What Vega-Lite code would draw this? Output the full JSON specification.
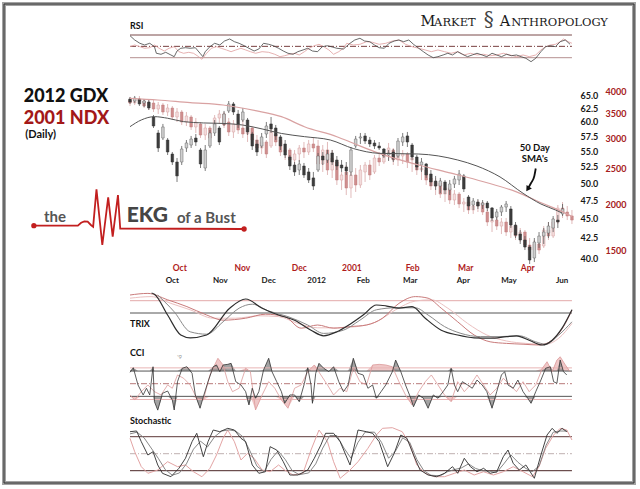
{
"$schema":"https://vega.github.io/schema/vega-lite/v6.json",
"width":630,"height":479,"autosize":{"type":"none"},
"padding":{"left":4,"top":4,"right":6,"bottom":6},
"background":"#ffffff",
"config":{"view":{"stroke":null},"text":{"font":"Lato"}},
"datasets":{
"span":[{"i":0,"i2":94}],
"gdx":[
{"i":0,"o":64.23,"h":64.62,"l":63.29,"c":63.66},{"i":1,"o":63.85,"h":64.81,"l":63.48,"c":64.42},{"i":2,"o":64.23,"h":64.42,"l":62.91,"c":63.29},{"i":3,"o":63.48,"h":64.23,"l":62.73,"c":63.85},{"i":4,"o":63.66,"h":64.04,"l":62.17,"c":62.54},{"i":5,"o":60.89,"h":61.25,"l":58.93,"c":59.28},{"i":6,"o":58.06,"h":58.58,"l":54.87,"c":55.53},{"i":7,"o":57.2,"h":59.64,"l":56.86,"c":59.11},{"i":8,"o":56.86,"h":57.2,"l":54.38,"c":54.87},{"i":9,"o":54.54,"h":54.87,"l":52.79,"c":53.26},
{"i":10,"o":53.26,"h":53.9,"l":50.19,"c":51.1},{"i":11,"o":53.26,"h":55.86,"l":52.79,"c":55.36},{"i":12,"o":55.53,"h":56.86,"l":54.87,"c":56.36},{"i":13,"o":56.02,"h":57.55,"l":55.53,"c":57.03},{"i":14,"o":57.2,"h":57.89,"l":55.86,"c":56.52},{"i":15,"o":55.2,"h":55.53,"l":52.32,"c":52.95},{"i":16,"o":52.32,"h":56.02,"l":51.86,"c":55.2},{"i":17,"o":55.86,"h":58.58,"l":55.53,"c":58.06},{"i":18,"o":58.06,"h":60.35,"l":57.55,"c":59.64},{"i":19,"o":58.93,"h":59.28,"l":56.02,"c":56.52},
{"i":20,"o":59.64,"h":61.99,"l":59.28,"c":61.43},{"i":21,"o":61.99,"h":63.85,"l":61.62,"c":63.29},{"i":22,"o":63.29,"h":63.66,"l":61.25,"c":61.8},{"i":23,"o":61.43,"h":62.17,"l":58.93,"c":59.64},{"i":24,"o":60.35,"h":62.54,"l":59.99,"c":61.8},{"i":25,"o":60.35,"h":60.71,"l":57.72,"c":58.24},{"i":26,"o":57.89,"h":58.24,"l":55.2,"c":55.86},{"i":27,"o":56.19,"h":56.86,"l":54.22,"c":54.87},{"i":28,"o":55.86,"h":58.06,"l":55.53,"c":57.38},{"i":29,"o":57.89,"h":59.99,"l":57.2,"c":59.28},
{"i":30,"o":59.64,"h":60.89,"l":58.06,"c":58.76},{"i":31,"o":58.93,"h":59.46,"l":56.86,"c":57.55},{"i":32,"o":57.38,"h":57.72,"l":55.2,"c":55.86},{"i":33,"o":56.19,"h":56.86,"l":53.9,"c":54.38},{"i":34,"o":54.06,"h":54.38,"l":52.01,"c":52.63},{"i":35,"o":52.79,"h":53.26,"l":51.1,"c":51.71},{"i":36,"o":52.01,"h":53.58,"l":51.25,"c":52.95},{"i":37,"o":52.63,"h":53.11,"l":50.8,"c":51.25},{"i":38,"o":51.71,"h":52.32,"l":50.04,"c":50.49},{"i":39,"o":50.8,"h":51.71,"l":49.01,"c":49.59},
{"i":40,"o":52.01,"h":54.71,"l":51.71,"c":54.22},{"i":41,"o":54.22,"h":54.87,"l":52.79,"c":53.58},{"i":42,"o":53.58,"h":55.2,"l":53.11,"c":54.54},{"i":43,"o":54.71,"h":55.2,"l":52.79,"c":53.26},{"i":44,"o":53.58,"h":54.22,"l":52.01,"c":52.63},{"i":45,"o":52.79,"h":53.58,"l":51.71,"c":52.32},{"i":46,"o":52.48,"h":53.26,"l":51.25,"c":51.86},{"i":47,"o":51.71,"h":55.69,"l":51.1,"c":55.2},{"i":48,"o":55.86,"h":57.55,"l":55.53,"c":57.03},{"i":49,"o":57.2,"h":58.06,"l":56.19,"c":57.38},
{"i":50,"o":57.55,"h":58.06,"l":56.19,"c":56.69},{"i":51,"o":56.86,"h":57.38,"l":55.69,"c":56.19},{"i":52,"o":56.36,"h":56.86,"l":55.36,"c":55.86},{"i":53,"o":55.86,"h":56.52,"l":55.2,"c":55.53},{"i":54,"o":55.36,"h":55.53,"l":53.9,"c":54.22},{"i":55,"o":54.38,"h":55.2,"l":53.42,"c":54.71},{"i":56,"o":54.87,"h":55.36,"l":53.26,"c":53.74},{"i":57,"o":54.22,"h":57.2,"l":53.9,"c":56.69},{"i":58,"o":56.52,"h":58.06,"l":55.86,"c":57.38},{"i":59,"o":57.55,"h":58.24,"l":55.69,"c":56.52},
{"i":60,"o":56.02,"h":56.36,"l":53.58,"c":54.06},{"i":61,"o":54.06,"h":54.38,"l":52.01,"c":52.48},{"i":62,"o":52.79,"h":53.9,"l":51.71,"c":53.26},{"i":63,"o":52.95,"h":53.11,"l":50.8,"c":51.25},{"i":64,"o":51.4,"h":52.01,"l":49.59,"c":50.19},{"i":65,"o":50.34,"h":51.1,"l":49.01,"c":49.59},{"i":66,"o":49.59,"h":50.8,"l":48.57,"c":50.34},{"i":67,"o":50.19,"h":50.49,"l":48.43,"c":49.01},{"i":68,"o":49.01,"h":50.49,"l":48.28,"c":49.89},{"i":69,"o":49.89,"h":51.1,"l":49.3,"c":50.64},
{"i":70,"o":50.49,"h":52.01,"l":49.74,"c":51.4},{"i":71,"o":51.1,"h":51.4,"l":48.72,"c":49.16},{"i":72,"o":48.0,"h":48.28,"l":46.18,"c":46.73},{"i":73,"o":46.87,"h":47.85,"l":46.18,"c":47.43},{"i":74,"o":47.29,"h":47.71,"l":46.32,"c":46.73},{"i":75,"o":46.87,"h":47.57,"l":46.32,"c":47.15},{"i":76,"o":47.15,"h":47.43,"l":46.04,"c":46.46},{"i":77,"o":46.46,"h":46.59,"l":44.69,"c":45.09},{"i":78,"o":45.23,"h":46.32,"l":44.82,"c":45.91},{"i":79,"o":45.91,"h":46.87,"l":45.36,"c":46.59},
{"i":80,"o":46.59,"h":47.43,"l":45.91,"c":47.01},{"i":81,"o":46.32,"h":46.73,"l":43.77,"c":44.16},{"i":82,"o":44.16,"h":44.56,"l":42.49,"c":42.87},{"i":83,"o":43.0,"h":43.51,"l":41.74,"c":42.24},{"i":84,"o":42.24,"h":42.74,"l":41.0,"c":41.37},{"i":85,"o":41.37,"h":41.62,"l":39.33,"c":39.8},{"i":86,"o":40.04,"h":42.49,"l":39.56,"c":41.99},{"i":87,"o":41.87,"h":43.25,"l":41.25,"c":42.74},{"i":88,"o":42.74,"h":43.77,"l":41.74,"c":43.25},{"i":89,"o":43.13,"h":44.56,"l":42.49,"c":44.03},
{"i":90,"o":43.77,"h":45.36,"l":43.25,"c":44.96},{"i":91,"o":44.82,"h":45.5,"l":43.77,"c":44.56},{"i":92,"o":45.64,"h":47.01,"l":45.36,"c":46.32}],
"ndx":[
{"i":0,"o":3801,"h":3872,"l":3663,"c":3731},{"i":1,"o":3731,"h":3848,"l":3685,"c":3801},{"i":2,"o":3801,"h":3895,"l":3708,"c":3777},{"i":3,"o":3777,"h":3824,"l":3618,"c":3663},{"i":4,"o":3663,"h":3801,"l":3574,"c":3731},{"i":5,"o":3731,"h":3801,"l":3530,"c":3596},{"i":6,"o":3596,"h":3754,"l":3487,"c":3685},{"i":7,"o":3685,"h":3731,"l":3465,"c":3530},{"i":8,"o":3530,"h":3708,"l":3444,"c":3618},{"i":9,"o":3618,"h":3663,"l":3360,"c":3423},
{"i":10,"o":3423,"h":3618,"l":3319,"c":3530},{"i":11,"o":3530,"h":3574,"l":3258,"c":3319},{"i":12,"o":3319,"h":3530,"l":3238,"c":3444},{"i":13,"o":3423,"h":3465,"l":3160,"c":3219},{"i":14,"o":3219,"h":3402,"l":3102,"c":3319},{"i":15,"o":3279,"h":3319,"l":3008,"c":3064},{"i":16,"o":3064,"h":3279,"l":2971,"c":3199},{"i":17,"o":3199,"h":3238,"l":2935,"c":3008},{"i":18,"o":3160,"h":3465,"l":3121,"c":3402},{"i":19,"o":3402,"h":3574,"l":3279,"c":3487},
{"i":20,"o":3487,"h":3530,"l":3199,"c":3258},{"i":21,"o":3319,"h":3402,"l":3045,"c":3121},{"i":22,"o":3121,"h":3360,"l":3008,"c":3279},{"i":23,"o":3279,"h":3402,"l":3083,"c":3160},{"i":24,"o":3199,"h":3360,"l":3008,"c":3083},{"i":25,"o":3083,"h":3258,"l":2935,"c":3199},{"i":26,"o":3199,"h":3238,"l":2881,"c":2971},{"i":27,"o":2971,"h":3064,"l":2759,"c":2828},{"i":28,"o":2828,"h":3008,"l":2726,"c":2935},{"i":29,"o":2935,"h":2971,"l":2659,"c":2726},
{"i":30,"o":2863,"h":3199,"l":2828,"c":3121},{"i":31,"o":3083,"h":3160,"l":2863,"c":2935},{"i":32,"o":2971,"h":3008,"l":2692,"c":2759},{"i":33,"o":2759,"h":2881,"l":2627,"c":2794},{"i":34,"o":2794,"h":2828,"l":2547,"c":2627},{"i":35,"o":2627,"h":2794,"l":2547,"c":2726},{"i":36,"o":2726,"h":2881,"l":2595,"c":2828},{"i":37,"o":2828,"h":2935,"l":2659,"c":2759},{"i":38,"o":2759,"h":2971,"l":2709,"c":2899},{"i":39,"o":2899,"h":3008,"l":2759,"c":2828},
{"i":40,"o":2863,"h":2971,"l":2500,"c":2563},{"i":41,"o":2563,"h":2881,"l":2440,"c":2794},{"i":42,"o":2794,"h":2935,"l":2395,"c":2470},{"i":43,"o":2470,"h":2794,"l":2351,"c":2659},{"i":44,"o":2595,"h":2627,"l":2252,"c":2322},{"i":45,"o":2322,"h":2440,"l":2184,"c":2395},{"i":46,"o":2440,"h":2547,"l":2117,"c":2211},{"i":47,"o":2211,"h":2470,"l":2079,"c":2395},{"i":48,"o":2395,"h":2500,"l":2157,"c":2252},{"i":49,"o":2252,"h":2547,"l":2211,"c":2470},
{"i":50,"o":2440,"h":2595,"l":2294,"c":2547},{"i":51,"o":2547,"h":2627,"l":2322,"c":2395},{"i":52,"o":2440,"h":2709,"l":2410,"c":2659},{"i":53,"o":2659,"h":2759,"l":2531,"c":2595},{"i":54,"o":2595,"h":2794,"l":2563,"c":2709},{"i":55,"o":2709,"h":2917,"l":2627,"c":2828},{"i":56,"o":2794,"h":2828,"l":2547,"c":2627},{"i":57,"o":2627,"h":2759,"l":2531,"c":2692},{"i":58,"o":2692,"h":2794,"l":2563,"c":2726},{"i":59,"o":2726,"h":2759,"l":2500,"c":2595},
{"i":60,"o":2627,"h":2709,"l":2440,"c":2659},{"i":61,"o":2595,"h":2627,"l":2395,"c":2470},{"i":62,"o":2470,"h":2547,"l":2322,"c":2500},{"i":63,"o":2470,"h":2500,"l":2252,"c":2322},{"i":64,"o":2351,"h":2395,"l":2184,"c":2238},{"i":65,"o":2238,"h":2351,"l":2117,"c":2294},{"i":66,"o":2280,"h":2322,"l":2079,"c":2130},{"i":67,"o":2130,"h":2252,"l":2028,"c":2211},{"i":68,"o":2211,"h":2238,"l":2003,"c":2053},{"i":69,"o":2053,"h":2184,"l":1991,"c":2130},
{"i":70,"o":2130,"h":2157,"l":1954,"c":2003},{"i":71,"o":2003,"h":2079,"l":1907,"c":2028},{"i":72,"o":2028,"h":2053,"l":1884,"c":1931},{"i":73,"o":1931,"h":2028,"l":1884,"c":1979},{"i":74,"o":1979,"h":2053,"l":1907,"c":2016},{"i":75,"o":2016,"h":2028,"l":1872,"c":1907},{"i":76,"o":1907,"h":1931,"l":1749,"c":1793},{"i":77,"o":1793,"h":1872,"l":1686,"c":1815},{"i":78,"o":1815,"h":1884,"l":1707,"c":1749},{"i":79,"o":1749,"h":1838,"l":1665,"c":1793},
{"i":80,"o":1793,"h":1838,"l":1645,"c":1686},{"i":81,"o":1686,"h":1815,"l":1625,"c":1749},{"i":82,"o":1749,"h":1771,"l":1605,"c":1645},{"i":83,"o":1645,"h":1728,"l":1585,"c":1686},{"i":84,"o":1686,"h":1707,"l":1528,"c":1556},{"i":85,"o":1556,"h":1625,"l":1437,"c":1509},{"i":86,"o":1509,"h":1605,"l":1454,"c":1566},{"i":87,"o":1566,"h":1625,"l":1472,"c":1509},{"i":88,"o":1547,"h":1749,"l":1528,"c":1707},{"i":89,"o":1707,"h":1793,"l":1605,"c":1645},
{"i":90,"o":1645,"h":1838,"l":1625,"c":1793},{"i":91,"o":1793,"h":1991,"l":1771,"c":1954},{"i":92,"o":1954,"h":2028,"l":1838,"c":1907},{"i":93,"o":1907,"h":1979,"l":1815,"c":1861},{"i":94,"o":1861,"h":1931,"l":1771,"c":1815}],
"gsma":[{"i":0,"v":59.16},{"i":2.4,"v":60.35},{"i":5.2,"v":60.95},{"i":8,"v":60.66},{"i":11.4,"v":60.05},{"i":15.6,"v":59.82},{"i":19.8,"v":59.73},{"i":23.9,"v":59.46},{"i":28.1,"v":58.76},{"i":32.2,"v":57.98},{"i":37.1,"v":57.43},{"i":42.6,"v":56.86},{"i":47.5,"v":55.44},{"i":53,"v":54.65},{"i":61.4,"v":54.54},{"i":69.7,"v":53.58},{"i":73.8,"v":52.63},{"i":78.7,"v":50.95},{"i":83.6,"v":48.53},{"i":87.4,"v":47.01},{"i":90.5,"v":46.18},{"i":91.9,"v":45.77}],
"nsma":[{"i":0,"v":3841},{"i":5.9,"v":3801},{"i":12.8,"v":3738},{"i":19.8,"v":3685},{"i":26.7,"v":3559},{"i":32.2,"v":3430},{"i":37.1,"v":3224},{"i":44,"v":3032},{"i":47.5,"v":2912},{"i":53,"v":2737},{"i":61.4,"v":2547},{"i":68.3,"v":2422},{"i":75.2,"v":2298},{"i":82.2,"v":2159},{"i":87.7,"v":2012},{"i":91.9,"v":1911},{"i":94,"v":1854}],
"rsig":[{"i":0,"v":68.8},{"i":1,"v":61.2},{"i":2.1,"v":55.4},{"i":3.1,"v":52.4},{"i":4.2,"v":55.4},{"i":5.2,"v":49.4},{"i":5.6,"v":37.8},{"i":6.6,"v":36},{"i":7.6,"v":39.5},{"i":8.7,"v":34.8},{"i":9.4,"v":31.8},{"i":10,"v":41.8},{"i":10.8,"v":46.6},{"i":11.8,"v":47.6},{"i":12.8,"v":46.6},{"i":13.9,"v":47.6},{"i":14.9,"v":37.8},{"i":15.5,"v":31.8},{"i":16,"v":40.6},{"i":17,"v":49.4},{"i":18,"v":55.4},{"i":19.1,"v":52.4},{"i":20.1,"v":59.4},{"i":21.2,"v":63},{"i":22.2,"v":58.2},{"i":23.2,"v":55.4},{"i":24.3,"v":51.1},{"i":25.3,"v":46.6},{"i":26.4,"v":41.8},{"i":27.4,"v":45.3},{"i":28.4,"v":55.4},{"i":29.5,"v":53.6},{"i":30.5,"v":51.1},{"i":31.6,"v":46.6},{"i":32.6,"v":41.8},{"i":33.6,"v":37.8},{"i":34.7,"v":36},{"i":35.7,"v":40.6},{"i":36.8,"v":43.6},{"i":37.8,"v":46.6},{"i":38.8,"v":41.8},{"i":39.9,"v":40.6},{"i":40.9,"v":49.4},{"i":42,"v":51.1},{"i":43,"v":48.9},{"i":44,"v":46.6},{"i":45.4,"v":45.3},{"i":46.8,"v":55.4},{"i":47.8,"v":61.2},{"i":48.9,"v":64.2},{"i":49.9,"v":59.4},{"i":51,"v":58.2},{"i":52,"v":52.4},{"i":53,"v":47.6},{"i":54.1,"v":46.6},{"i":55.1,"v":55.4},{"i":56.2,"v":59.4},{"i":57.2,"v":61.2},{"i":58.2,"v":58.2},{"i":59.3,"v":61.2},{"i":60.3,"v":53.6},{"i":61.4,"v":46.6},{"i":62.4,"v":40.6},{"i":63.4,"v":34.8},{"i":64.5,"v":30},{"i":65.5,"v":31.8},{"i":66.6,"v":34.8},{"i":67.6,"v":37.8},{"i":68.6,"v":34.8},{"i":69.7,"v":40.6},{"i":70.7,"v":36},{"i":71.8,"v":31.8},{"i":72.8,"v":34.8},{"i":73.8,"v":37.8},{"i":74.9,"v":34.8},{"i":75.9,"v":31.8},{"i":77,"v":37.8},{"i":78,"v":34.8},{"i":79,"v":31.8},{"i":80.1,"v":36},{"i":81.1,"v":33.5},{"i":82.2,"v":34.8},{"i":83.2,"v":31.8},{"i":84.2,"v":29},{"i":85.3,"v":23},{"i":86.3,"v":29},{"i":87.4,"v":40.6},{"i":88.4,"v":49.4},{"i":89.4,"v":51.1},{"i":90.5,"v":49.4},{"i":91.5,"v":58.2},{"i":92.6,"v":61.2},{"i":93.6,"v":53.6}],
"rsin":[{"i":0,"v":49.4},{"i":1,"v":52.4},{"i":2.1,"v":49.4},{"i":3.1,"v":46.6},{"i":4.2,"v":47.6},{"i":5.2,"v":52.4},{"i":6.2,"v":46.6},{"i":7.3,"v":41.8},{"i":8.3,"v":46.6},{"i":9.4,"v":49.4},{"i":10.4,"v":40.6},{"i":11.4,"v":37.8},{"i":12.5,"v":39.5},{"i":13.5,"v":37.8},{"i":14.6,"v":31.8},{"i":15.3,"v":27.2},{"i":16.3,"v":37.8},{"i":17.3,"v":46.6},{"i":18.4,"v":49.4},{"i":19.4,"v":46.6},{"i":20.5,"v":43.6},{"i":21.5,"v":40.6},{"i":22.5,"v":43.6},{"i":23.6,"v":46.6},{"i":24.6,"v":43.6},{"i":25.6,"v":40.6},{"i":26.7,"v":37.8},{"i":28.1,"v":40.6},{"i":29.5,"v":39.5},{"i":30.8,"v":36},{"i":31.9,"v":31.8},{"i":32.9,"v":33.5},{"i":34,"v":36},{"i":35,"v":37.8},{"i":36,"v":34.8},{"i":37.1,"v":40.6},{"i":38.1,"v":46.6},{"i":39.2,"v":51.1},{"i":40.2,"v":53.6},{"i":41.2,"v":49.4},{"i":42.3,"v":43.6},{"i":43.3,"v":36},{"i":44.4,"v":40.6},{"i":45.4,"v":46.6},{"i":46.1,"v":55.4},{"i":47.5,"v":52.4},{"i":48.9,"v":53.6},{"i":50.3,"v":58.2},{"i":51.6,"v":57.1},{"i":53,"v":53.6},{"i":54.4,"v":55.4},{"i":55.8,"v":59.4},{"i":57.2,"v":61.2},{"i":58.6,"v":53.6},{"i":60,"v":49.4},{"i":61.4,"v":46.6},{"i":62.8,"v":43.6},{"i":64.1,"v":40.6},{"i":65.5,"v":43.6},{"i":66.9,"v":40.6},{"i":68.3,"v":37.8},{"i":69.7,"v":40.6},{"i":71.1,"v":34.8},{"i":72.4,"v":37.8},{"i":73.8,"v":34.8},{"i":75.2,"v":36},{"i":76.6,"v":33.5},{"i":78,"v":34.8},{"i":79.4,"v":37.8},{"i":80.8,"v":34.8},{"i":82.2,"v":31.8},{"i":83.6,"v":34.8},{"i":84.9,"v":31.8},{"i":86.3,"v":34.8},{"i":87.4,"v":43.6},{"i":88.4,"v":49.4},{"i":89.4,"v":52.4},{"i":90.5,"v":53.6},{"i":91.5,"v":58.2},{"i":92.2,"v":63},{"i":93.2,"v":58.2},{"i":94,"v":55.4}],
"trg1":[{"i":4.6,"v":0.5},{"i":5.2,"v":0.47},{"i":8,"v":-0.05},{"i":10.8,"v":-0.55},{"i":12.8,"v":-0.62},{"i":16.3,"v":-0.55},{"i":21.2,"v":0.12},{"i":24.6,"v":0.35},{"i":28.1,"v":0.12},{"i":31.6,"v":-0.05},{"i":35,"v":-0.18},{"i":38.5,"v":-0.43},{"i":41.2,"v":-0.57},{"i":44,"v":-0.47},{"i":46.8,"v":-0.28},{"i":49.6,"v":-0.05},{"i":52.4,"v":0.2},{"i":54.4,"v":0.18},{"i":57.2,"v":0.12},{"i":60,"v":0.16},{"i":62.8,"v":-0.13},{"i":66.2,"v":-0.43},{"i":69.7,"v":-0.55},{"i":73.2,"v":-0.62},{"i":76.6,"v":-0.63},{"i":80.1,"v":-0.59},{"i":82.2,"v":-0.57},{"i":84.9,"v":-0.68},{"i":87.7,"v":-0.8},{"i":89.8,"v":-0.68},{"i":91.9,"v":-0.38},{"i":94,"v":0.08}],
"trg2":[{"i":5.9,"v":0.45},{"i":9.4,"v":0.03},{"i":12.8,"v":-0.47},{"i":16.3,"v":-0.53},{"i":19.8,"v":-0.22},{"i":23.2,"v":0.12},{"i":26,"v":0.22},{"i":29.5,"v":0.05},{"i":33.6,"v":-0.09},{"i":37.8,"v":-0.3},{"i":41.2,"v":-0.51},{"i":45.4,"v":-0.43},{"i":48.9,"v":-0.18},{"i":52.4,"v":0.08},{"i":56.5,"v":0.13},{"i":60.7,"v":0.13},{"i":63.4,"v":-0.05},{"i":66.9,"v":-0.34},{"i":70.4,"v":-0.51},{"i":74.5,"v":-0.59},{"i":78.7,"v":-0.59},{"i":82.8,"v":-0.57},{"i":86.3,"v":-0.72},{"i":88.4,"v":-0.78},{"i":91.2,"v":-0.55},{"i":94,"v":-0.22}],
"trn1":[{"i":0,"v":0.45},{"i":3.8,"v":0.49},{"i":8,"v":0.33},{"i":12.1,"v":0.16},{"i":16.3,"v":-0.05},{"i":19.8,"v":-0.18},{"i":24.6,"v":-0.13},{"i":28.8,"v":-0.03},{"i":32.9,"v":-0.09},{"i":36.4,"v":-0.38},{"i":39.9,"v":-0.3},{"i":43.3,"v":-0.38},{"i":46.8,"v":-0.34},{"i":50.3,"v":-0.3},{"i":53.7,"v":-0.13},{"i":57.2,"v":0.24},{"i":60.7,"v":0.41},{"i":63.4,"v":0.37},{"i":66.2,"v":0.12},{"i":69.7,"v":-0.22},{"i":73.2,"v":-0.55},{"i":76.6,"v":-0.72},{"i":80.1,"v":-0.76},{"i":83.6,"v":-0.78},{"i":87,"v":-0.8},{"i":89.8,"v":-0.68},{"i":92.6,"v":-0.26},{"i":94,"v":0.08}],
"trn2":[{"i":0,"v":0.37},{"i":4.5,"v":0.41},{"i":8.7,"v":0.24},{"i":12.8,"v":0.08},{"i":17.7,"v":-0.13},{"i":22.5,"v":-0.13},{"i":27.4,"v":-0.07},{"i":31.6,"v":-0.09},{"i":35.7,"v":-0.26},{"i":39.9,"v":-0.37},{"i":44,"v":-0.37},{"i":48.2,"v":-0.34},{"i":52.4,"v":-0.22},{"i":56.5,"v":0.08},{"i":60.7,"v":0.3},{"i":64.1,"v":0.33},{"i":67.6,"v":0.12},{"i":71.8,"v":-0.26},{"i":75.9,"v":-0.55},{"i":80.1,"v":-0.7},{"i":84.2,"v":-0.76},{"i":88.4,"v":-0.78},{"i":91.2,"v":-0.63},{"i":94,"v":-0.26}],
"ccig":[{"i":0,"v":90},{"i":0.7,"v":126},{"i":1.7,"v":-10},{"i":2.8,"v":-89},{"i":3.5,"v":-36},{"i":4.2,"v":-89},{"i":4.9,"v":134},{"i":5.2,"v":-142},{"i":5.9,"v":-209},{"i":6.9,"v":-76},{"i":8,"v":-58},{"i":9,"v":-129},{"i":9.4,"v":-208},{"i":10.1,"v":16},{"i":11.1,"v":122},{"i":12.1,"v":134},{"i":13.2,"v":82},{"i":13.9,"v":-89},{"i":14.9,"v":-194},{"i":15.6,"v":-103},{"i":16.6,"v":16},{"i":17.7,"v":134},{"i":18.4,"v":148},{"i":19.1,"v":95},{"i":19.8,"v":148},{"i":20.8,"v":153},{"i":21.5,"v":161},{"i":22.5,"v":16},{"i":23.6,"v":-10},{"i":24.6,"v":-63},{"i":25.3,"v":-168},{"i":26,"v":-36},{"i":26.7,"v":-115},{"i":27.4,"v":-63},{"i":28.4,"v":108},{"i":29.5,"v":201},{"i":30.2,"v":95},{"i":31.2,"v":16},{"i":32.2,"v":-63},{"i":32.9,"v":-155},{"i":34,"v":-89},{"i":35,"v":-89},{"i":36,"v":-142},{"i":37.1,"v":3},{"i":37.8,"v":126},{"i":38.5,"v":-10},{"i":38.8,"v":-155},{"i":39.5,"v":82},{"i":40.2,"v":161},{"i":41.2,"v":122},{"i":42.3,"v":95},{"i":43.3,"v":134},{"i":44.4,"v":16},{"i":45.4,"v":-63},{"i":46.4,"v":-10},{"i":47.5,"v":201},{"i":48.5,"v":82},{"i":49.6,"v":69},{"i":50.6,"v":-36},{"i":51.6,"v":-10},{"i":52.4,"v":-115},{"i":53.4,"v":-63},{"i":54.4,"v":-10},{"i":55.8,"v":95},{"i":56.5,"v":187},{"i":57.6,"v":95},{"i":58.6,"v":-10},{"i":59.6,"v":-103},{"i":60.3,"v":-182},{"i":61.4,"v":-89},{"i":62.4,"v":-115},{"i":63.4,"v":-194},{"i":64.5,"v":-89},{"i":65.5,"v":-115},{"i":66.6,"v":-63},{"i":67.6,"v":-10},{"i":68.3,"v":122},{"i":69,"v":-10},{"i":69.7,"v":-63},{"i":70.7,"v":16},{"i":71.8,"v":-10},{"i":72.8,"v":-36},{"i":73.8,"v":29},{"i":74.9,"v":-10},{"i":75.9,"v":-63},{"i":77,"v":-194},{"i":78,"v":-63},{"i":79,"v":69},{"i":79.7,"v":95},{"i":80.4,"v":-10},{"i":81.5,"v":-36},{"i":82.5,"v":29},{"i":83.6,"v":-63},{"i":84.6,"v":-115},{"i":85.3,"v":-155},{"i":86.3,"v":-63},{"i":87.4,"v":29},{"i":88.4,"v":122},{"i":89.4,"v":134},{"i":90.1,"v":16},{"i":90.8,"v":3},{"i":91.5,"v":187},{"i":92.2,"v":95},{"i":92.9,"v":69}],
"ccin":[{"i":0,"v":-89},{"i":1,"v":-129},{"i":2.4,"v":-63},{"i":3.8,"v":-10},{"i":5.2,"v":-63},{"i":6.6,"v":-89},{"i":8,"v":-10},{"i":9,"v":-36},{"i":10.1,"v":69},{"i":11.4,"v":43},{"i":12.8,"v":-10},{"i":14.2,"v":-115},{"i":15.6,"v":-129},{"i":17,"v":69},{"i":18,"v":148},{"i":18.7,"v":201},{"i":19.8,"v":148},{"i":20.8,"v":16},{"i":21.8,"v":-63},{"i":23.2,"v":-36},{"i":24.6,"v":122},{"i":25.6,"v":95},{"i":26.7,"v":-208},{"i":28.1,"v":-89},{"i":29.5,"v":16},{"i":30.8,"v":-36},{"i":32.2,"v":-129},{"i":33.6,"v":-194},{"i":35,"v":-36},{"i":36.4,"v":-10},{"i":37.8,"v":95},{"i":39.2,"v":148},{"i":40.6,"v":69},{"i":42,"v":-10},{"i":43.3,"v":-89},{"i":44.7,"v":-36},{"i":46.1,"v":-63},{"i":47.5,"v":122},{"i":48.9,"v":16},{"i":50.3,"v":-10},{"i":51.6,"v":148},{"i":53,"v":153},{"i":54.4,"v":148},{"i":55.8,"v":134},{"i":57.2,"v":16},{"i":58.6,"v":-89},{"i":60,"v":-168},{"i":61.4,"v":-63},{"i":62.8,"v":16},{"i":64.1,"v":69},{"i":65.5,"v":-10},{"i":66.9,"v":-89},{"i":68.3,"v":-142},{"i":69.7,"v":16},{"i":71.1,"v":-63},{"i":72.4,"v":-10},{"i":73.8,"v":69},{"i":75.2,"v":-10},{"i":76.6,"v":-89},{"i":78,"v":-36},{"i":79.4,"v":43},{"i":80.8,"v":-10},{"i":82.2,"v":-63},{"i":83.6,"v":16},{"i":84.9,"v":-63},{"i":86.3,"v":-10},{"i":87.7,"v":122},{"i":88.7,"v":174},{"i":89.8,"v":95},{"i":90.8,"v":187},{"i":91.5,"v":213},{"i":92.6,"v":148},{"i":93.6,"v":95}],
"stk":[{"i":0,"v":88.8},{"i":1.4,"v":90.1},{"i":2.4,"v":71.2},{"i":3.8,"v":47.7},{"i":4.9,"v":53.5},{"i":5.9,"v":30.1},{"i":6.9,"v":15.4},{"i":8.7,"v":9.4},{"i":10.4,"v":24.2},{"i":11.8,"v":41.9},{"i":13.2,"v":71.2},{"i":14.2,"v":86},{"i":15.6,"v":44.7},{"i":16.6,"v":71.2},{"i":17.7,"v":91.8},{"i":19.1,"v":88.8},{"i":20.8,"v":94.8},{"i":22.2,"v":91.8},{"i":23.6,"v":77.2},{"i":24.6,"v":71.2},{"i":26,"v":30.1},{"i":27.4,"v":15.4},{"i":28.8,"v":18.2},{"i":29.8,"v":62.4},{"i":31.2,"v":56.5},{"i":32.6,"v":35.9},{"i":34,"v":12.4},{"i":35.7,"v":12.4},{"i":37.8,"v":21.2},{"i":39.2,"v":41.9},{"i":40.6,"v":65.4},{"i":41.6,"v":86},{"i":43.3,"v":86},{"i":44.7,"v":71.2},{"i":46.8,"v":30.1},{"i":48.5,"v":91.8},{"i":50.3,"v":88.8},{"i":51.6,"v":86},{"i":53,"v":71.2},{"i":54.8,"v":27.1},{"i":56.2,"v":50.7},{"i":57.6,"v":83},{"i":58.9,"v":77.2},{"i":60.3,"v":47.7},{"i":61.7,"v":21.2},{"i":63.4,"v":12.4},{"i":65.2,"v":9.4},{"i":66.9,"v":15.4},{"i":68.6,"v":27.1},{"i":69.7,"v":15.4},{"i":71.1,"v":41.9},{"i":72.4,"v":27.1},{"i":73.8,"v":18.2},{"i":75.2,"v":24.2},{"i":76.6,"v":15.4},{"i":78,"v":18.2},{"i":79.4,"v":44.7},{"i":80.4,"v":56.5},{"i":81.5,"v":33.1},{"i":82.8,"v":21.2},{"i":84.2,"v":30.1},{"i":86,"v":6.6},{"i":87.4,"v":47.7},{"i":88.7,"v":83},{"i":89.8,"v":94.8},{"i":90.8,"v":86},{"i":91.9,"v":94.8},{"i":92.9,"v":88.8}],
"std":[{"i":0,"v":85},{"i":1.5,"v":88},{"i":3,"v":78},{"i":4.5,"v":60},{"i":6,"v":42},{"i":7.5,"v":22},{"i":9,"v":12},{"i":10.5,"v":16},{"i":12,"v":32},{"i":13.5,"v":58},{"i":15,"v":72},{"i":16.5,"v":62},{"i":18,"v":80},{"i":19.5,"v":90},{"i":21,"v":92},{"i":22.5,"v":90},{"i":24,"v":80},{"i":25.5,"v":55},{"i":27,"v":28},{"i":28.5,"v":18},{"i":30,"v":40},{"i":31.5,"v":55},{"i":33,"v":40},{"i":34.5,"v":20},{"i":36,"v":13},{"i":38,"v":16},{"i":39.5,"v":32},{"i":41,"v":60},{"i":42.5,"v":82},{"i":44,"v":82},{"i":45.5,"v":60},{"i":47,"v":42},{"i":48.5,"v":70},{"i":50,"v":88},{"i":52,"v":88},{"i":53.5,"v":70},{"i":55,"v":42},{"i":56.5,"v":55},{"i":58,"v":78},{"i":59.5,"v":70},{"i":61,"v":40},{"i":62.5,"v":20},{"i":64,"v":12},{"i":66,"v":11},{"i":67.5,"v":18},{"i":69,"v":22},{"i":70.5,"v":25},{"i":72,"v":32},{"i":73.5,"v":24},{"i":75,"v":20},{"i":76.5,"v":19},{"i":78,"v":17},{"i":79.5,"v":32},{"i":81,"v":48},{"i":82.5,"v":35},{"i":84,"v":25},{"i":85.5,"v":18},{"i":87,"v":28},{"i":88.5,"v":65},{"i":90,"v":88},{"i":91.5,"v":90},{"i":93,"v":90}],
"stn":[{"i":0,"v":77.2},{"i":1,"v":53.5},{"i":2.4,"v":27.1},{"i":3.8,"v":15.4},{"i":5.9,"v":21.2},{"i":8,"v":35.9},{"i":10.1,"v":27.1},{"i":11.8,"v":30.1},{"i":13.5,"v":18.2},{"i":15.3,"v":9.4},{"i":17,"v":24.2},{"i":18.4,"v":47.7},{"i":19.8,"v":77.2},{"i":20.8,"v":91.8},{"i":22.2,"v":71.2},{"i":23.6,"v":38.9},{"i":25,"v":50.7},{"i":26.4,"v":41.9},{"i":28.1,"v":21.2},{"i":29.8,"v":18.2},{"i":31.6,"v":30.1},{"i":32.9,"v":21.2},{"i":34.7,"v":12.4},{"i":36.8,"v":15.4},{"i":38.5,"v":56.5},{"i":40.2,"v":91.8},{"i":42,"v":71.2},{"i":43.3,"v":35.9},{"i":44.7,"v":6.6},{"i":46.8,"v":21.2},{"i":48.5,"v":35.9},{"i":50.6,"v":59.5},{"i":52.4,"v":83},{"i":53.7,"v":94.8},{"i":55.8,"v":95.9},{"i":57.9,"v":88.8},{"i":59.6,"v":65.4},{"i":61,"v":30.1},{"i":62.8,"v":15.4},{"i":64.8,"v":9.4},{"i":66.9,"v":9.4},{"i":69,"v":15.4},{"i":71.1,"v":21.2},{"i":73.2,"v":12.4},{"i":75.2,"v":18.2},{"i":77.3,"v":12.4},{"i":79.4,"v":18.2},{"i":81.5,"v":27.1},{"i":83.6,"v":18.2},{"i":85.6,"v":9.4},{"i":87,"v":27.1},{"i":88.4,"v":59.5},{"i":90.1,"v":83},{"i":91.5,"v":94.8},{"i":92.9,"v":91.8},{"i":94,"v":74.2}],
"ekg":[{"i":-20.45,"v":35.1},{"i":-11.09,"v":35.1},{"i":-10.4,"v":40.5},{"i":-9.71,"v":42.7},{"i":-9,"v":42.4},{"i":-8.32,"v":36.4},{"i":-7.84,"v":33.3},{"i":-7.13,"v":101.3},{"i":-5.89,"v":0},{"i":-4.64,"v":86.7},{"i":-3.68,"v":15.1},{"i":-2.56,"v":90.9},{"i":-2.08,"v":30},{"i":24.27,"v":29.1}]
},
"layer":[
{"data":{"values":[{}]},"mark":{"type":"rect","fillOpacity":0,"stroke":"#a3a3a3","strokeWidth":4}},
{"data":{"values":[{}]},"mark":{"type":"rect","fillOpacity":0,"stroke":"#2e2e2e","strokeWidth":1}},
{
"encoding":{"x":{"field":"i","type":"quantitative","scale":{"domain":[0,94],"range":[121,572.95],"nice":false,"zero":false},"axis":null}},
"layer":[
{"data":{"name":"span"},"mark":{"type":"rule","color":"#7a4a4a","strokeWidth":1},"encoding":{"x2":{"field":"i2"},"y":{"datum":70,"type":"quantitative","scale":{"domain":[30,70],"range":[53.7,31],"nice":false,"zero":false},"axis":null}}},
{"data":{"name":"span"},"mark":{"type":"rule","color":"#6a2a2a","strokeWidth":0.9,"strokeDash":[6,2,1,2]},"encoding":{"x2":{"field":"i2"},"y":{"datum":50,"type":"quantitative","scale":{"domain":[30,70],"range":[53.7,31],"nice":false,"zero":false},"axis":null}}},
{"data":{"name":"span"},"mark":{"type":"rule","color":"#b59090","strokeWidth":1},"encoding":{"x2":{"field":"i2"},"y":{"datum":30,"type":"quantitative","scale":{"domain":[30,70],"range":[53.7,31],"nice":false,"zero":false},"axis":null}}},
{"data":{"name":"rsin"},"mark":{"type":"line","color":"#df9d9d","strokeWidth":0.8},"encoding":{"y":{"field":"v","type":"quantitative","scale":{"domain":[30,70],"range":[53.7,31],"nice":false,"zero":false},"axis":null}}},
{"data":{"name":"rsig"},"mark":{"type":"line","color":"#444444","strokeWidth":0.8},"encoding":{"y":{"field":"v","type":"quantitative","scale":{"domain":[30,70],"range":[53.7,31],"nice":false,"zero":false},"axis":null}}},
{"data":{"values":[{"t":"RSI","i":0,"v":80.6}]},"mark":{"type":"text","align":"left","baseline":"alphabetic","fontSize":9,"fontWeight":"bold","color":"#111111"},"encoding":{"text":{"field":"t"},"y":{"field":"v","type":"quantitative","scale":{"domain":[30,70],"range":[53.7,31],"nice":false,"zero":false},"axis":null}}},
{"data":{"values":[{"t":"M","i":61.77,"v":86.4},{"t":"A","i":78.62,"v":86.4}]},"mark":{"type":"text","align":"left","baseline":"alphabetic","font":"DejaVu Serif","fontSize":14.5,"color":"#1a1a1a"},"encoding":{"text":{"field":"t"},"y":{"field":"v","type":"quantitative","scale":{"domain":[30,70],"range":[53.7,31],"nice":false,"zero":false},"axis":null}}},
{"data":{"values":[{"t":"ARKET","i":64.68,"v":86.4},{"t":"NTHROPOLOGY","i":81.1,"v":86.4}]},"mark":{"type":"text","align":"left","baseline":"alphabetic","font":"DejaVu Serif","fontSize":11.5,"color":"#1a1a1a"},"encoding":{"text":{"field":"t"},"y":{"field":"v","type":"quantitative","scale":{"domain":[30,70],"range":[53.7,31],"nice":false,"zero":false},"axis":null}}},
{"data":{"values":[{"t":"§","i":76.33,"v":96.4}]},"mark":{"type":"text","align":"center","baseline":"middle","font":"DejaVu Serif","fontSize":20,"color":"#444444"},"encoding":{"text":{"field":"t"},"y":{"field":"v","type":"quantitative","scale":{"domain":[30,70],"range":[53.7,31],"nice":false,"zero":false},"axis":null}}},
{"data":{"name":"ndx"},"mark":{"type":"rule","color":"#d9a8a8","strokeWidth":0.8},"encoding":{"y":{"field":"l","type":"quantitative","scale":{"type":"log","domain":[1500,4000],"range":[246.99,87.7],"nice":false,"zero":false},"axis":null},"y2":{"field":"h"}}},
{"data":{"name":"ndx"},"mark":{"type":"bar","width":2.6,"strokeWidth":0.5},"encoding":{"y":{"field":"o","type":"quantitative","scale":{"type":"log","domain":[1500,4000],"range":[246.99,87.7],"nice":false,"zero":false},"axis":null},"y2":{"field":"c"},"fill":{"condition":{"test":"datum.c >= datum.o","value":"#f3dcdc"},"value":"#cf8e8e"},"stroke":{"condition":{"test":"datum.c >= datum.o","value":"#d6a0a0"},"value":"#c07c7c"}}},
{"data":{"name":"gdx"},"mark":{"type":"rule","color":"#5a5a5a","strokeWidth":0.8},"encoding":{"y":{"field":"l","type":"quantitative","scale":{"type":"log","domain":[40,65],"range":[254.33,91],"nice":false,"zero":false},"axis":null},"y2":{"field":"h"}}},
{"data":{"name":"gdx"},"mark":{"type":"bar","width":2.6,"strokeWidth":0.5},"encoding":{"y":{"field":"o","type":"quantitative","scale":{"type":"log","domain":[40,65],"range":[254.33,91],"nice":false,"zero":false},"axis":null},"y2":{"field":"c"},"fill":{"condition":{"test":"datum.c >= datum.o","value":"#cfcfcf"},"value":"#3c3c3c"},"stroke":{"condition":{"test":"datum.c >= datum.o","value":"#666666"},"value":"#333333"}}},
{"data":{"name":"nsma"},"mark":{"type":"line","color":"#d9a2a2","strokeWidth":1.2,"interpolate":"monotone"},"encoding":{"y":{"field":"v","type":"quantitative","scale":{"type":"log","domain":[1500,4000],"range":[246.99,87.7],"nice":false,"zero":false},"axis":{"orient":"right","offset":-29,"values":[1500,2000,2500,3000,3500,4000],"format":"d","domain":false,"ticks":false,"tickSize":0,"grid":false,"title":null,"labelFont":"Lato","labelFontWeight":"bold","labelFontSize":9,"labelColor":"#a52020","labelPadding":0,"labelFlush":false,"labelOverlap":false,"labelBound":false}}}},
{"data":{"name":"gsma"},"mark":{"type":"line","color":"#555555","strokeWidth":1,"interpolate":"monotone"},"encoding":{"y":{"field":"v","type":"quantitative","scale":{"type":"log","domain":[40,65],"range":[254.33,91],"nice":false,"zero":false},"axis":{"orient":"right","offset":-54,"values":[40,42.5,45,47.5,50,52.5,55,57.5,60,62.5,65],"format":".1f","domain":false,"ticks":false,"tickSize":0,"grid":false,"title":null,"labelFont":"Lato","labelFontWeight":"bold","labelFontSize":9,"labelColor":"#1a1a1a","labelPadding":0,"labelFlush":false,"labelOverlap":false,"labelBound":false}}}},
{"data":{"values":[{"i":86.3,"v":52.24},{"i":86.0,"v":51.1},{"i":85.3,"v":50.04},{"i":84.7,"v":49.3}]},"mark":{"type":"line","color":"#111111","strokeWidth":1.8,"interpolate":"monotone"},"encoding":{"y":{"field":"v","type":"quantitative","scale":{"type":"log","domain":[40,65],"range":[254.33,91],"nice":false,"zero":false},"axis":null}}},
{"data":{"values":[{"i":84.6,"v":49.15}]},"mark":{"type":"point","shape":"triangle-down","angle":32,"size":40,"filled":true,"color":"#111111","opacity":1},"encoding":{"y":{"field":"v","type":"quantitative","scale":{"type":"log","domain":[40,65],"range":[254.33,91],"nice":false,"zero":false},"axis":null}}},
{"data":{"values":[{"t":"50 Day","i":86.1,"v":55.48},{"t":"SMA's","i":86.1,"v":53.69}]},"mark":{"type":"text","align":"center","baseline":"middle","fontSize":9.5,"fontWeight":"bold","color":"#111111"},"encoding":{"text":{"field":"t"},"y":{"field":"v","type":"quantitative","scale":{"type":"log","domain":[40,65],"range":[254.33,91],"nice":false,"zero":false},"axis":null}}},
{"data":{"values":[{"t":"2012 GDX","i":-22.6,"v":64.52}]},"mark":{"type":"text","align":"left","baseline":"middle","fontSize":18,"fontWeight":900,"color":"#111111"},"encoding":{"text":{"field":"t"},"y":{"field":"v","type":"quantitative","scale":{"type":"log","domain":[40,65],"range":[254.33,91],"nice":false,"zero":false},"axis":null}}},
{"data":{"values":[{"t":"2001 NDX","i":-22.6,"v":60.5}]},"mark":{"type":"text","align":"left","baseline":"middle","fontSize":18,"fontWeight":900,"color":"#a31818"},"encoding":{"text":{"field":"t"},"y":{"field":"v","type":"quantitative","scale":{"type":"log","domain":[40,65],"range":[254.33,91],"nice":false,"zero":false},"axis":null}}},
{"data":{"values":[{"t":"(Daily)","i":-22.3,"v":57.72}]},"mark":{"type":"text","align":"left","baseline":"middle","fontSize":11,"fontWeight":"bold","color":"#111111"},"encoding":{"text":{"field":"t"},"y":{"field":"v","type":"quantitative","scale":{"type":"log","domain":[40,65],"range":[254.33,91],"nice":false,"zero":false},"axis":null}}},
{"data":{"values":[{"t":"Oct","i":10.6},{"t":"Nov","i":23.9},{"t":"Dec","i":36},{"t":"2001","i":47.2},{"t":"Feb","i":60.1},{"t":"Mar","i":71.4},{"t":"Apr","i":84.6}]},"mark":{"type":"text","align":"center","baseline":"middle","fontSize":8.5,"fontWeight":"bold","color":"#b01c1c"},"encoding":{"text":{"field":"t"},"y":{"datum":38.92,"type":"quantitative","scale":{"type":"log","domain":[40,65],"range":[254.33,91],"nice":false,"zero":false},"axis":null}}},
{"data":{"values":[{"t":"Oct","i":9},{"t":"Nov","i":19.2},{"t":"Dec","i":29.5},{"t":"2012","i":39.7},{"t":"Feb","i":49.6},{"t":"Mar","i":59.6},{"t":"Apr","i":70.9},{"t":"May","i":80.6},{"t":"Jun","i":91.9}]},"mark":{"type":"text","align":"center","baseline":"middle","fontSize":8,"fontWeight":"bold","color":"#1a1a1a"},"encoding":{"text":{"field":"t"},"y":{"datum":37.42,"type":"quantitative","scale":{"type":"log","domain":[40,65],"range":[254.33,91],"nice":false,"zero":false},"axis":null}}},
{"data":{"name":"ekg"},"mark":{"type":"line","color":"#c21f1f","strokeWidth":1.8},"encoding":{"y":{"field":"v","type":"quantitative","scale":{"domain":[0,100],"range":[241,186],"nice":false,"zero":false},"axis":null}}},
{"data":{"values":[{"i":-20.45,"v":35.1},{"i":24.27,"v":29.1}]},"mark":{"type":"circle","size":28,"color":"#c21f1f","opacity":1},"encoding":{"y":{"field":"v","type":"quantitative","scale":{"domain":[0,100],"range":[241,186],"nice":false,"zero":false},"axis":null}}},
{"data":{"values":[{"t":"the","i":-18.3,"v":50.5},{"t":"of a Bust","i":9.98,"v":49.4}]},"mark":{"type":"text","align":"left","baseline":"middle","fontSize":15,"fontWeight":"bold","color":"#555555"},"encoding":{"text":{"field":"t"},"y":{"field":"v","type":"quantitative","scale":{"domain":[0,100],"range":[241,186],"nice":false,"zero":false},"axis":null}}},
{"data":{"values":[{"t":"EKG","i":-0.69,"v":52.4}]},"mark":{"type":"text","align":"left","baseline":"middle","fontSize":21,"fontWeight":900,"color":"#454545"},"encoding":{"text":{"field":"t"},"y":{"field":"v","type":"quantitative","scale":{"domain":[0,100],"range":[241,186],"nice":false,"zero":false},"axis":null}}},
{"data":{"name":"span"},"mark":{"type":"rule","color":"#e3a9a9","strokeWidth":1},"encoding":{"x2":{"field":"i2"},"y":{"datum":0.3075,"type":"quantitative","scale":{"domain":[0,1],"range":[309,269],"nice":false,"zero":false},"axis":null}}},
{"data":{"name":"span"},"mark":{"type":"rule","color":"#555555","strokeWidth":1},"encoding":{"x2":{"field":"i2"},"y":{"datum":0,"type":"quantitative","scale":{"domain":[0,1],"range":[309,269],"nice":false,"zero":false},"axis":null}}},
{"data":{"name":"trn2"},"mark":{"type":"line","color":"#ebc0c0","strokeWidth":1,"interpolate":"monotone"},"encoding":{"y":{"field":"v","type":"quantitative","scale":{"domain":[0,1],"range":[309,269],"nice":false,"zero":false},"axis":null}}},
{"data":{"name":"trn1"},"mark":{"type":"line","color":"#c97b7b","strokeWidth":1,"interpolate":"monotone"},"encoding":{"y":{"field":"v","type":"quantitative","scale":{"domain":[0,1],"range":[309,269],"nice":false,"zero":false},"axis":null}}},
{"data":{"name":"trg2"},"mark":{"type":"line","color":"#8a8a8a","strokeWidth":1,"interpolate":"monotone"},"encoding":{"y":{"field":"v","type":"quantitative","scale":{"domain":[0,1],"range":[309,269],"nice":false,"zero":false},"axis":null}}},
{"data":{"name":"trg1"},"mark":{"type":"line","color":"#2e2e2e","strokeWidth":1.2,"interpolate":"monotone"},"encoding":{"y":{"field":"v","type":"quantitative","scale":{"domain":[0,1],"range":[309,269],"nice":false,"zero":false},"axis":null}}},
{"data":{"values":[{"t":"TRIX","i":0,"v":-0.3575}]},"mark":{"type":"text","align":"left","baseline":"alphabetic","fontSize":9,"fontWeight":"bold","color":"#111111"},"encoding":{"text":{"field":"t"},"y":{"field":"v","type":"quantitative","scale":{"domain":[0,1],"range":[309,269],"nice":false,"zero":false},"axis":null}}},
{"data":{"name":"ccin"},"mark":{"type":"area","color":"#e9b4b4","opacity":0.75},"encoding":{"y":{"field":"v","type":"quantitative","scale":{"domain":[100,1000],"range":[367.05,253.2],"clamp":true,"nice":false,"zero":false},"axis":null},"y2":{"datum":100}}},
{"data":{"name":"ccin"},"mark":{"type":"area","color":"#e9b4b4","opacity":0.75},"encoding":{"y":{"field":"v","type":"quantitative","scale":{"domain":[-1000,-100],"range":[506.2,392.35],"clamp":true,"nice":false,"zero":false},"axis":null},"y2":{"datum":-100}}},
{"data":{"name":"ccig"},"mark":{"type":"area","color":"#8c8c8c","opacity":0.8},"encoding":{"y":{"field":"v","type":"quantitative","scale":{"domain":[100,1000],"range":[367.05,253.2],"clamp":true,"nice":false,"zero":false},"axis":null},"y2":{"datum":100}}},
{"data":{"name":"ccig"},"mark":{"type":"area","color":"#8c8c8c","opacity":0.8},"encoding":{"y":{"field":"v","type":"quantitative","scale":{"domain":[-1000,-100],"range":[506.2,392.35],"clamp":true,"nice":false,"zero":false},"axis":null},"y2":{"datum":-100}}},
{"data":{"name":"span"},"mark":{"type":"rule","color":"#e8b4b4","strokeWidth":1},"encoding":{"x2":{"field":"i2"},"y":{"datum":125,"type":"quantitative","scale":{"domain":[-100,100],"range":[392.35,367.05],"nice":false,"zero":false},"axis":null}}},
{"data":{"name":"span"},"mark":{"type":"rule","color":"#e8b4b4","strokeWidth":1},"encoding":{"x2":{"field":"i2"},"y":{"datum":-125,"type":"quantitative","scale":{"domain":[-100,100],"range":[392.35,367.05],"nice":false,"zero":false},"axis":null}}},
{"data":{"name":"span"},"mark":{"type":"rule","color":"#555555","strokeWidth":1},"encoding":{"x2":{"field":"i2"},"y":{"datum":100,"type":"quantitative","scale":{"domain":[-100,100],"range":[392.35,367.05],"nice":false,"zero":false},"axis":null}}},
{"data":{"name":"span"},"mark":{"type":"rule","color":"#555555","strokeWidth":1},"encoding":{"x2":{"field":"i2"},"y":{"datum":-100,"type":"quantitative","scale":{"domain":[-100,100],"range":[392.35,367.05],"nice":false,"zero":false},"axis":null}}},
{"data":{"name":"span"},"mark":{"type":"rule","color":"#b06a6a","strokeWidth":0.9,"strokeDash":[6,2,1,2]},"encoding":{"x2":{"field":"i2"},"y":{"datum":0,"type":"quantitative","scale":{"domain":[-100,100],"range":[392.35,367.05],"nice":false,"zero":false},"axis":null}}},
{"data":{"name":"ccin"},"mark":{"type":"line","color":"#dc9a9a","strokeWidth":0.8},"encoding":{"y":{"field":"v","type":"quantitative","scale":{"domain":[-100,100],"range":[392.35,367.05],"nice":false,"zero":false},"axis":null}}},
{"data":{"name":"ccig"},"mark":{"type":"line","color":"#333333","strokeWidth":0.8},"encoding":{"y":{"field":"v","type":"quantitative","scale":{"domain":[-100,100],"range":[392.35,367.05],"nice":false,"zero":false},"axis":null}}},
{"data":{"values":[{"t":"CCI","i":0,"v":219}]},"mark":{"type":"text","align":"left","baseline":"alphabetic","fontSize":9,"fontWeight":"bold","color":"#111111"},"encoding":{"text":{"field":"t"},"y":{"field":"v","type":"quantitative","scale":{"domain":[-100,100],"range":[392.35,367.05],"nice":false,"zero":false},"axis":null}}},
{"data":{"values":[{"t":"'9","i":10.05,"v":211}]},"mark":{"type":"text","align":"left","baseline":"middle","fontSize":6,"color":"#999999"},"encoding":{"text":{"field":"t"},"y":{"field":"v","type":"quantitative","scale":{"domain":[-100,100],"range":[392.35,367.05],"nice":false,"zero":false},"axis":null}}},
{"data":{"name":"span"},"mark":{"type":"rule","color":"#5e3838","strokeWidth":1},"encoding":{"x2":{"field":"i2"},"y":{"datum":80,"type":"quantitative","scale":{"domain":[20,80],"range":[466.7,432.7],"nice":false,"zero":false},"axis":null}}},
{"data":{"name":"span"},"mark":{"type":"rule","color":"#b8a8a8","strokeWidth":0.9,"strokeDash":[6,2,1,2]},"encoding":{"x2":{"field":"i2"},"y":{"datum":50,"type":"quantitative","scale":{"domain":[20,80],"range":[466.7,432.7],"nice":false,"zero":false},"axis":null}}},
{"data":{"name":"span"},"mark":{"type":"rule","color":"#4a2626","strokeWidth":1},"encoding":{"x2":{"field":"i2"},"y":{"datum":20,"type":"quantitative","scale":{"domain":[20,80],"range":[466.7,432.7],"nice":false,"zero":false},"axis":null}}},
{"data":{"name":"stn"},"mark":{"type":"line","color":"#e3a4a4","strokeWidth":1},"encoding":{"y":{"field":"v","type":"quantitative","scale":{"domain":[20,80],"range":[466.7,432.7],"nice":false,"zero":false},"axis":null}}},
{"data":{"name":"std"},"mark":{"type":"line","color":"#7a7a7a","strokeWidth":0.9},"encoding":{"y":{"field":"v","type":"quantitative","scale":{"domain":[20,80],"range":[466.7,432.7],"nice":false,"zero":false},"axis":null}}},
{"data":{"name":"stk"},"mark":{"type":"line","color":"#2e2e2e","strokeWidth":0.9},"encoding":{"y":{"field":"v","type":"quantitative","scale":{"domain":[20,80],"range":[466.7,432.7],"nice":false,"zero":false},"axis":null}}},
{"data":{"values":[{"t":"Stochastic","i":0,"v":101.9}]},"mark":{"type":"text","align":"left","baseline":"alphabetic","fontSize":9,"fontWeight":"bold","color":"#111111"},"encoding":{"text":{"field":"t"},"y":{"field":"v","type":"quantitative","scale":{"domain":[20,80],"range":[466.7,432.7],"nice":false,"zero":false},"axis":null}}}
],
"resolve":{"scale":{"y":"independent"},"axis":{"y":"independent"}}
}
],
"resolve":{"scale":{"y":"independent"}}
}
